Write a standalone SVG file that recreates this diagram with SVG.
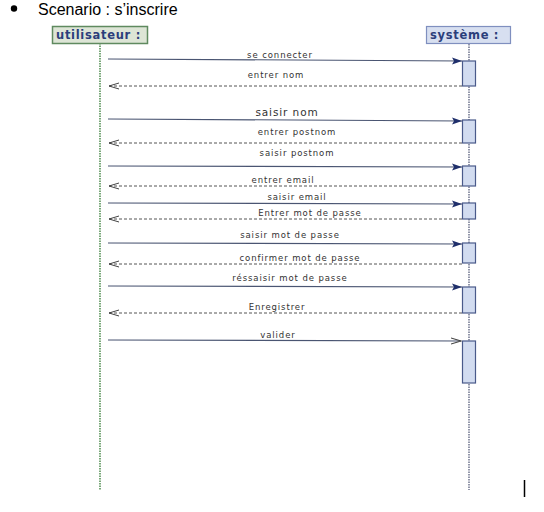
<svg xmlns="http://www.w3.org/2000/svg" width="544" height="512" viewBox="0 0 544 512">
<defs>
<style>
.lbl{font-family:"DejaVu Sans",sans-serif;font-size:8.5px;fill:#333;letter-spacing:0.9px;text-anchor:middle}
.lbl2{font-family:"DejaVu Sans",sans-serif;font-size:10.5px;fill:#333;letter-spacing:0.9px;text-anchor:middle}
.call{stroke:#4a5572;stroke-width:1.1;fill:none}
.ret{stroke:#555;stroke-width:1;stroke-dasharray:3 2;fill:none}
.act{fill:#d2dcf0;stroke:#4a5a8a;stroke-width:1.2}
.head{font-family:"DejaVu Sans",sans-serif;font-weight:bold;font-size:11.5px;fill:#2b3e7b;letter-spacing:0.7px}
</style>
<marker id="filled" markerWidth="11" markerHeight="8" refX="10" refY="4" orient="auto" markerUnits="userSpaceOnUse">
<path d="M0,0.5 L10,4 L0,7.5 L2,4 Z" fill="#1f2f6b"/>
</marker>
<marker id="open" markerWidth="11" markerHeight="8" refX="10" refY="4" orient="auto" markerUnits="userSpaceOnUse">
<path d="M0,1 L10,4 L0,7" fill="none" stroke="#444" stroke-width="1"/>
</marker>
</defs>
<rect width="544" height="512" fill="#fff"/>
<circle cx="14" cy="8.5" r="3.2" fill="#000"/>
<text x="38" y="14.5" font-family="'Liberation Sans',sans-serif" font-size="16" fill="#000">Scenario : s’inscrire</text>
<line x1="524.5" y1="480" x2="524.5" y2="497" stroke="#000" stroke-width="1.5"/>

<g id="utilisateur">
<line x1="100" y1="43" x2="100" y2="490" stroke="#4e8a4e" stroke-width="1.5" stroke-dasharray="1.5 1"/>
<rect x="52.5" y="26.5" width="95" height="17" fill="#dde5d6" stroke="#5f8a5f" stroke-width="1.5"/>
<text class="head" x="56" y="39">utilisateur :</text>
</g>

<g id="systeme">
<line x1="469" y1="44" x2="469" y2="490" stroke="#4a5070" stroke-width="1.2" stroke-dasharray="1.5 1"/>
<rect x="426.5" y="26.5" width="84" height="17" fill="#d7dff0" stroke="#7f8fbf" stroke-width="1.2"/>
<text class="head" x="430" y="39">système :</text>
<rect class="act" x="462.5" y="61" width="13" height="25"/>
<rect class="act" x="462.5" y="120" width="13" height="23"/>
<rect class="act" x="462.5" y="166" width="13" height="20"/>
<rect class="act" x="462.5" y="203" width="13" height="16"/>
<rect class="act" x="462.5" y="243" width="13" height="20"/>
<rect class="act" x="462.5" y="287" width="13" height="26"/>
<rect class="act" x="462.5" y="341" width="13" height="42"/>
</g>

<g id="connectors">
<line class="call" x1="108" y1="59" x2="462" y2="61" marker-end="url(#filled)"/>
<text class="lbl" x="280" y="58">se connecter</text>
<line class="ret" x1="462" y1="86" x2="109" y2="86" marker-end="url(#open)"/>
<text class="lbl" x="276" y="78">entrer nom</text>

<line class="call" x1="108" y1="119" x2="462" y2="121" marker-end="url(#filled)"/>
<text class="lbl2" x="287" y="116">saisir nom</text>
<line class="ret" x1="462" y1="143" x2="109" y2="143" marker-end="url(#open)"/>
<text class="lbl" x="297" y="135">entrer postnom</text>

<line class="call" x1="108" y1="166" x2="462" y2="167" marker-end="url(#filled)"/>
<text class="lbl" x="297" y="156">saisir postnom</text>
<line class="ret" x1="462" y1="186" x2="109" y2="186" marker-end="url(#open)"/>
<text class="lbl" x="283" y="183">entrer email</text>

<line class="call" x1="108" y1="203" x2="462" y2="204" marker-end="url(#filled)"/>
<text class="lbl" x="297" y="200">saisir email</text>
<line class="ret" x1="462" y1="219" x2="109" y2="219" marker-end="url(#open)"/>
<text class="lbl" x="310" y="216">Entrer mot de passe</text>

<line class="call" x1="108" y1="243" x2="462" y2="244" marker-end="url(#filled)"/>
<text class="lbl" x="290" y="238">saisir mot de passe</text>
<line class="ret" x1="462" y1="264" x2="109" y2="264" marker-end="url(#open)"/>
<text class="lbl" x="300" y="261">confirmer mot de passe</text>

<line class="call" x1="108" y1="286" x2="462" y2="287" marker-end="url(#filled)"/>
<text class="lbl" x="290" y="281">réssaisir mot de passe</text>
<line class="ret" x1="462" y1="313" x2="109" y2="313" marker-end="url(#open)"/>
<text class="lbl" x="277" y="310">Enregistrer</text>

<line class="call" x1="108" y1="340" x2="461" y2="341" marker-end="url(#open)"/>
<text class="lbl" x="278" y="338">valider</text>
</g>
</svg>
